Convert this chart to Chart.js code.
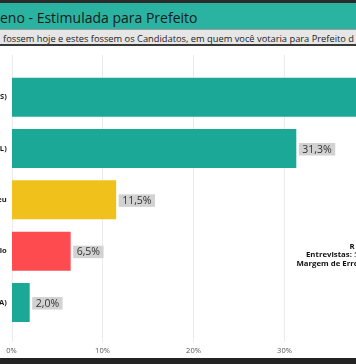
<!DOCTYPE html>
<html>
<head>
<meta charset="utf-8">
<script src="https://cdn.jsdelivr.net/npm/chart.js@4/dist/chart.umd.min.js"></script>
<style>
  html, body { margin: 0; padding: 0; background: #ffffff; overflow: hidden; }
  #wrap { position: relative; width: 356px; height: 364px; overflow: hidden; background: #fff; }
  #topline { position: absolute; left: 0; top: 0; width: 356px; height: 3px; background: #2b2b2b; }
  #title { position: absolute; left: 0; top: 3px; width: 356px; height: 26px; background: #2bb3a1;
           font-family: "Open Sans", sans-serif; font-size: 14px; color: #1a1a1a; line-height: 29px;
           white-space: nowrap; overflow: hidden; }
  #sub { position: absolute; left: 0; top: 29px; width: 356px; height: 17px; background: #e6e6e6;
         border-top: 1px solid #9a9a9a; border-bottom: 2px solid #3a3a3a;
         font-family: "Open Sans", sans-serif; font-size: 9.3px; color: #222; line-height: 18px;
         white-space: nowrap; overflow: hidden; padding-left: 3px; box-sizing: border-box; }
  #chartbox { position: absolute; left: 0; top: 49px; width: 356px; height: 309px; }
  #bottomline { position: absolute; left: 0; top: 358px; width: 356px; height: 6px; background: #232323; }
</style>
</head>
<body>
<div id="wrap">
  <div id="topline"></div>
  <div id="title">eno - Estimulada para Prefeito</div>
  <div id="sub">fossem hoje e estes fossem os Candidatos, em quem você votaria para Prefeito d</div>
  <div id="chartbox"><canvas id="c" width="356" height="309"></canvas></div>
  <div id="bottomline"></div>
</div>
<script>
// ---- data ----
const categories = ["S)", "L)", "eu", "lo", "A)"];
const values = [40.5, 31.3, 11.5, 6.5, 2.0];
const barColors = ["#1ba897", "#1ba897", "#f0c11b", "#fd4b50", "#1ba897"];
const xTicks = [0, 10, 20, 30];
const noteLines = [
  { bold: "R", normal: "" },
  { bold: "Entrevistas: ", normal: "56" },
  { bold: "Margem de Erro: ", normal: "" }
];

const FONT = '"Open Sans", sans-serif';

const gridPlugin = {
  id: 'customGrid',
  beforeDatasetsDraw(chart) {
    const ctx = chart.ctx, xs = chart.scales.x;
    ctx.save();
    ctx.strokeStyle = '#ebebeb';
    ctx.lineWidth = 1;
    xTicks.forEach(v => {
      const px = Math.round(xs.getPixelForValue(v)) + 0.5;
      ctx.beginPath();
      ctx.moveTo(px, 6);
      ctx.lineTo(px, 293);
      ctx.stroke();
    });
    ctx.restore();
  }
};

const labelPlugin = {
  id: 'valueLabels',
  afterDatasetsDraw(chart) {
    const ctx = chart.ctx;
    const meta = chart.getDatasetMeta(0);
    ctx.save();
    ctx.font = '10.5px ' + FONT;
    ctx.textBaseline = 'middle';
    ctx.textAlign = 'left';
    meta.data.forEach((bar, i) => {
      const txt = values[i].toFixed(1).replace('.', ',') + '%';
      const w = ctx.measureText(txt).width;
      const bx = bar.x + 2.5;
      const by = bar.y - 5.5;
      ctx.fillStyle = '#d2d2d2';
      ctx.fillRect(bx, by, w + 7, 12.5);
      ctx.fillStyle = '#333333';
      ctx.fillText(txt, bx + 3.5, by + 6.6);
    });
    ctx.restore();
  }
};

const notePlugin = {
  id: 'note',
  afterDraw(chart) {
    const ctx = chart.ctx;
    ctx.save();
    ctx.textBaseline = 'middle';
    ctx.textAlign = 'left';
    const starts = [349.5, 306, 296.5];
    const ys = [246.5 - 49, 255 - 49, 263.5 - 49];
    noteLines.forEach((ln, i) => {
      ctx.font = 'bold 7.8px ' + FONT;
      ctx.fillStyle = '#111';
      ctx.fillText(ln.bold, starts[i], ys[i]);
      const w = ctx.measureText(ln.bold).width;
      ctx.font = '7.8px ' + FONT;
      ctx.fillStyle = '#444';
      ctx.fillText(ln.normal, starts[i] + w, ys[i]);
    });
    ctx.restore();
  }
};

new Chart(document.getElementById('c'), {
  type: 'bar',
  data: {
    labels: categories,
    datasets: [{
      data: values,
      backgroundColor: barColors,
      borderWidth: 0,
      categoryPercentage: 1,
      barPercentage: 0.76
    }]
  },
  options: {
    indexAxis: 'y',
    responsive: false,
    animation: false,
    events: [],
    layout: { padding: { top: 22.5, right: 0, left: 0, bottom: 0 } },
    plugins: { legend: { display: false }, tooltip: { enabled: false } },
    scales: {
      x: {
        min: 0,
        max: 37.86,
        grid: { display: true, drawOnChartArea: false, drawTicks: true, tickLength: 17, tickColor: 'rgba(0,0,0,0)' },
        border: { display: false },
        afterFit(s) { s.height = 29.8; },
        ticks: {
          stepSize: 10,
          includeBounds: false,
          padding: 0.8,
          color: '#555',
          font: { family: FONT, size: 7.5 },
          callback: v => v + '%'
        }
      },
      y: {
        grid: { display: false, drawTicks: false },
        border: { display: false },
        afterFit(s) { s.width = 11.5; },
        ticks: {
          padding: 4.8,
          color: '#1a1a1a',
          font: { family: FONT, size: 7.6, weight: 'bold' }
        }
      }
    }
  },
  plugins: [gridPlugin, labelPlugin, notePlugin]
});
</script>
</body>
</html>
